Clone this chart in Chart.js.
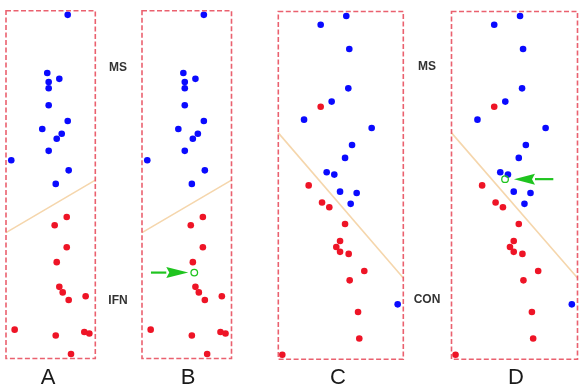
<!DOCTYPE html>
<html>
<head>
<meta charset="utf-8">
<script src="https://cdn.jsdelivr.net/npm/chart.js@4/dist/chart.umd.min.js"></script>
<style>
  html, body { margin: 0; padding: 0; background: #ffffff; }
  #wrap { position: relative; width: 586px; height: 390px; overflow: hidden; background: #fff; }
  canvas { position: absolute; left: 0; top: 0; }
  .lbl { position: absolute; font-family: "Liberation Sans", Arial, sans-serif; font-weight: bold; font-size: 12px; color: #333; transform: translate(-50%, -50%); white-space: nowrap; }
  .big { position: absolute; font-family: "Liberation Sans", Arial, sans-serif; font-size: 22px; color: #1a1a1a; transform: translate(-50%, -50%); }
</style>
</head>
<body>
<div id="wrap">
  <canvas id="cA" width="586" height="390"></canvas>
  <canvas id="cB" width="586" height="390"></canvas>
  <canvas id="cC" width="586" height="390"></canvas>
  <canvas id="cD" width="586" height="390"></canvas>
  <div class="lbl" style="left:118px;top:67px">MS</div>
  <div class="lbl" style="left:118px;top:300px">IFN</div>
  <div class="lbl" style="left:427px;top:66px">MS</div>
  <div class="lbl" style="left:427px;top:299px">CON</div>
  <div class="big" style="left:48px;top:377px">A</div>
  <div class="big" style="left:188px;top:377px">B</div>
  <div class="big" style="left:338px;top:377px">C</div>
  <div class="big" style="left:516px;top:377px">D</div>
</div>
<script>
// ---- Data (panel units 0..100 on both axes) ----
const PANEL_NAMES = ["A", "B", "C", "D"];

// Panels A and B (MS vs IFN)
const AB_BLUE_X = [69.1, 46.2, 59.7, 47.8, 47.8, 47.8, 69.1, 40.6, 62.4, 56.8, 47.8, 5.9, 70.2, 55.7];
const AB_BLUE_Y = [98.8, 82.1, 80.4, 79.5, 77.7, 72.8, 68.3, 66.0, 64.6, 63.2, 59.7, 57.0, 54.1, 50.2];
const AB_RED_X  = [68.0, 54.5, 68.0, 56.8, 59.7, 63.5, 70.2, 89.2, 9.7, 55.7, 87.7, 93.3, 72.8];
const AB_RED_Y  = [40.7, 38.3, 32.0, 27.7, 20.6, 19.0, 16.8, 17.9, 8.3, 6.6, 7.6, 7.2, 1.3];
const AB_SEP_X  = [0, 100];
const AB_SEP_Y  = [36.2, 51.3];

// Panels C and D (MS vs CON)
const CD_BLUE_X = [54.4, 33.9, 56.8, 56.0, 42.7, 20.6, 74.7, 59.0, 53.4, 38.7, 44.8, 49.4, 62.7, 57.9, 95.5];
const CD_BLUE_Y = [98.7, 96.2, 89.2, 77.9, 74.1, 68.9, 66.5, 61.6, 57.9, 53.8, 53.1, 48.2, 47.8, 44.7, 15.8];
const CD_RED_X  = [33.9, 24.3, 35.0, 40.8, 53.4, 49.4, 46.4, 49.4, 56.3, 68.8, 57.1, 63.8, 64.8, 3.2];
const CD_RED_Y  = [72.6, 50.0, 45.1, 43.7, 38.9, 34.0, 32.3, 30.9, 30.3, 25.4, 22.7, 13.6, 6.0, 1.3];
const CD_SEP_X  = [0, 100];
const CD_SEP_Y  = [65.1, 23.4];

// Query subject markers (B and D)
const B_QUERY = [58.4, 24.7];
const B_ARROW_X = [10, 51.7];
const D_QUERY = [42.5, 51.8];
const D_ARROW_X = [80.8, 49.6];

// ---- helpers ----
const zip = (xs, ys) => xs.map((x, i) => ({ x: x, y: ys[i] }));

const BLUE = "#0a0aff";
const RED = "#ee1426";
const SEP = "#f5d6ac";
const GREEN = "#1fc41f";

const frame = {
  id: "frame",
  afterDraw(chart) {
    const a = chart.chartArea, ctx = chart.ctx;
    ctx.save();
    ctx.strokeStyle = "rgba(232,80,95,0.9)";
    ctx.lineWidth = 1.6;
    ctx.setLineDash([5, 2.5]);
    ctx.strokeRect(a.left, a.top, a.right - a.left, a.bottom - a.top);
    ctx.restore();
  }
};

const arrowPlugin = {
  id: "arrow",
  afterDatasetsDraw(chart, args, opts) {
    if (!opts || !opts.from) return;
    const xs = chart.scales.x, ys = chart.scales.y, ctx = chart.ctx;
    const x0 = xs.getPixelForValue(opts.from), x1 = xs.getPixelForValue(opts.to);
    const y = ys.getPixelForValue(opts.y);
    const dir = Math.sign(x1 - x0);
    const head = opts.head, hw = 5.5;
    ctx.save();
    ctx.strokeStyle = GREEN; ctx.fillStyle = GREEN;
    ctx.lineWidth = 2.2;
    ctx.beginPath();
    ctx.moveTo(x0, y); ctx.lineTo(x1 - dir * head, y); ctx.stroke();
    ctx.beginPath();
    ctx.moveTo(x1, y);
    ctx.lineTo(x1 - dir * head, y - hw);
    ctx.lineTo(x1 - dir * (head - 3), y);
    ctx.lineTo(x1 - dir * head, y + hw);
    ctx.closePath(); ctx.fill();
    ctx.restore();
  }
};

function makePanel(id, box, blueX, blueY, redX, redY, sepX, sepY, query, arrowX, head) {
  const datasets = [
    { label: "MS", data: zip(blueX, blueY), backgroundColor: BLUE, borderColor: BLUE, pointRadius: 3.3, borderWidth: 0, clip: false, order: 2 },
    { label: "other", data: zip(redX, redY), backgroundColor: RED, borderColor: RED, pointRadius: 3.3, borderWidth: 0, clip: false, order: 2 },
    { label: "sep", data: zip(sepX, sepY), showLine: true, borderColor: SEP, borderWidth: 1.6, pointRadius: 0, fill: false, clip: false, order: 5 }
  ];
  if (query) {
    datasets.push({ label: "query", data: [{ x: query[0], y: query[1] }], backgroundColor: "rgba(0,0,0,0)", borderColor: GREEN, borderWidth: 1.3, pointRadius: 3.3, clip: false, order: 1 });
  }
  return new Chart(document.getElementById(id), {
    type: "scatter",
    data: { datasets: datasets },
    options: {
      responsive: false,
      animation: false,
      events: [],
      layout: { padding: { left: box.l, top: box.t, right: 586 - box.r, bottom: 390 - box.b } },
      scales: {
        x: { type: "linear", min: 0, max: 100, display: false },
        y: { type: "linear", min: 0, max: 100, display: false }
      },
      plugins: {
        legend: { display: false },
        tooltip: { enabled: false },
        arrow: arrowX ? { from: arrowX[0], to: arrowX[1], y: query[1], head: head } : {}
      }
    },
    plugins: [frame, arrowPlugin]
  });
}

makePanel("cA", { l: 6, t: 10.7, r: 95.3, b: 358.5 }, AB_BLUE_X, AB_BLUE_Y, AB_RED_X, AB_RED_Y, AB_SEP_X, AB_SEP_Y, null, null, 0);
makePanel("cB", { l: 142, t: 10.7, r: 231.5, b: 358.5 }, AB_BLUE_X, AB_BLUE_Y, AB_RED_X, AB_RED_Y, AB_SEP_X, AB_SEP_Y, B_QUERY, B_ARROW_X, 22);
makePanel("cC", { l: 278.3, t: 11.5, r: 403.3, b: 359.3 }, CD_BLUE_X, CD_BLUE_Y, CD_RED_X, CD_RED_Y, CD_SEP_X, CD_SEP_Y, null, null, 0);
makePanel("cD", { l: 451.5, t: 11.5, r: 577.5, b: 359.3 }, CD_BLUE_X, CD_BLUE_Y, CD_RED_X, CD_RED_Y, CD_SEP_X, CD_SEP_Y, D_QUERY, D_ARROW_X, 21);
</script>
</body>
</html>
